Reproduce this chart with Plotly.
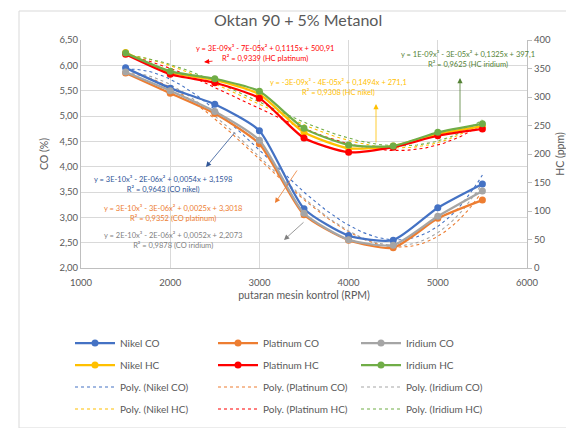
import numpy as np
import plotly.graph_objects as go

# ---------------- data ----------------
rpm = [1500, 2000, 2500, 3000, 3500, 4000, 4500, 5000, 5500]

co_nikel    = [5.95, 5.55, 5.23, 4.71, 3.17, 2.64, 2.55, 3.19, 3.66]
co_platinum = [5.85, 5.45, 5.05, 4.45, 3.05, 2.55, 2.40, 2.98, 3.34]
co_iridium  = [5.87, 5.50, 5.09, 4.52, 3.08, 2.56, 2.45, 3.02, 3.52]

hc_nikel    = [378, 343, 330, 305, 238, 210, 214, 235, 249]
hc_platinum = [375, 340, 325, 298, 228, 203, 212, 232, 244]
hc_iridium  = [377, 345, 332, 310, 245, 216, 214, 238, 253]

x_ticks = [1000, 2000, 3000, 4000, 5000, 6000]
co_ticks = [2.0, 2.5, 3.0, 3.5, 4.0, 4.5, 5.0, 5.5, 6.0, 6.5]
co_tick_labels = ["2,00", "2,50", "3,00", "3,50", "4,00", "4,50", "5,00", "5,50", "6,00", "6,50"]
hc_ticks = [0, 50, 100, 150, 200, 250, 300, 350, 400]

eq_labels = {
    "hc_platinum": "y = 3E-09x³ - 7E-05x² + 0,1115x + 500,91<br>R² = 0,9339 (HC platinum)",
    "hc_iridium": "y = 1E-09x³ - 3E-05x² + 0,1325x + 397,1<br>R² = 0,9625 (HC iridium)",
    "hc_nikel": "y = -3E-09x³ - 4E-05x² + 0,1494x + 271,1<br>R² = 0,9308 (HC nikel)",
    "co_nikel": "y = 3E-10x³ - 2E-06x² + 0,0054x + 3,1598<br>R² = 0,9643 (CO nikel)",
    "co_platinum": "y = 3E-10x³ - 3E-06x² + 0,0025x + 3,3018<br>R² = 0,9352 (CO platinum)",
    "co_iridium": "y = 2E-10x³ - 2E-06x² + 0,0052x + 2,2073<br>R² = 0,9878 (CO iridium)",
}

BLUE, ORANGE, GRAY = "#4472C4", "#ED7D31", "#A5A5A5"
GOLD, RED, GREEN = "#FFC000", "#FF0000", "#70AD47"
TXT = "#595959"
FONT = "Lato"

# ---------------- geometry ----------------
W, H = 574, 428
L, R, T, B = 73, 519, 39, 267   # plot area in px (reference)
DY = 7                          # page offset compensation


def px2x(px):
    return 1000 + (px - L) / (R - L) * 5000


def py2co(py):
    return 6.5 - (py - T) / (B - T) * 4.5


def py2hc(py):
    return 400 - (py - T) / (B - T) * 400


def ppx(px):
    return (px - L) / (R - L)


def ppy(py):
    return (B - py) / (B - T)


fig = go.Figure()

series = [
    ("Nikel CO", co_nikel, BLUE, "y", "legend"),
    ("Platinum CO", co_platinum, ORANGE, "y", "legend"),
    ("Iridium CO", co_iridium, GRAY, "y", "legend"),
    ("Nikel HC", hc_nikel, GOLD, "y2", "legend2"),
    ("Platinum HC", hc_platinum, RED, "y2", "legend2"),
    ("Iridium HC", hc_iridium, GREEN, "y2", "legend2"),
]

# trendlines (3rd order polynomial fit, like Excel "Poly.")
xs = np.linspace(min(rpm), max(rpm), 121)
for i, (name, vals, col, yax, _) in enumerate(series):
    xn = (np.array(rpm) - 3500) / 1000.0
    coef = np.polyfit(xn, np.array(vals, dtype=float), 3)
    ys = np.polyval(coef, (xs - 3500) / 1000.0)
    fig.add_trace(go.Scatter(
        x=xs, y=ys, mode="lines", yaxis=yax,
        name=f"Poly. ({name})",
        line=dict(color=col, width=1.1, dash="dot"),
        legend="legend3" if i < 3 else "legend4",
        hoverinfo="skip",
    ))

for name, vals, col, yax, lg in series:
    fig.add_trace(go.Scatter(
        x=rpm, y=vals, mode="lines+markers", yaxis=yax, name=name,
        line=dict(color=col, width=2.25, shape="spline", smoothing=0.6),
        marker=dict(color=col, size=7),
        legend=lg,
    ))

# ---------------- annotations (trendline labels) ----------------
ann = []


def label(text, cx, cy, col, yref):
    conv = py2co if yref == "y" else py2hc
    ann.append(dict(x=px2x(cx), y=conv(cy), xref="x", yref=yref, text=text,
                    showarrow=False, align="center",
                    font=dict(family=FONT, size=7.5, color=col)))


def arrow(hx, hy, tx, ty, col, yref):
    conv = py2co if yref == "y" else py2hc
    ann.append(dict(x=px2x(hx), y=conv(hy), ax=px2x(tx), ay=conv(ty),
                    xref="x", yref=yref, axref="x", ayref=yref, text="",
                    showarrow=True, arrowhead=2, arrowsize=1.3, arrowwidth=0.8,
                    arrowcolor=col, standoff=0))


label(eq_labels["hc_platinum"], 257, 52, RED, "y2")
arrow(196, 61, 206, 60, RED, "y2")
label(eq_labels["hc_iridium"], 460, 58, "#548235", "y2")
arrow(452, 77, 452, 123, "#548235", "y2")
label(eq_labels["hc_nikel"], 330, 86, GOLD, "y2")
arrow(368, 103, 368, 143, GOLD, "y2")
label(eq_labels["co_nikel"], 155, 183, "#2F5597", "y")
arrow(198, 166, 228, 130, "#2F5597", "y")
label(eq_labels["co_platinum"], 165, 212, ORANGE, "y")
arrow(267, 202, 290, 168, ORANGE, "y")
label(eq_labels["co_iridium"], 165, 239, "#7F7F7F", "y")
arrow(276, 239, 297, 220, "#7F7F7F", "y")

# title
ann.append(dict(x=ppx(290), y=ppy(19), xref="paper", yref="paper",
                text="Oktan 90 + 5% Metanol", showarrow=False,
                yanchor="middle",
                font=dict(family=FONT, size=16, color=TXT)))

fig.update_layout(annotations=ann)

# chart border
fig.add_shape(type="rect", xref="paper", yref="paper",
              x0=ppx(11), x1=ppx(569), y0=ppy(10), y1=ppy(427),
              line=dict(color="#D9D9D9", width=1), layer="below")

leg_common = dict(orientation="h", xanchor="left", yanchor="middle",
                  font=dict(family=FONT, size=10, color=TXT),
                  itemwidth=40, entrywidth=88, entrywidthmode="pixels",
                  bgcolor="rgba(0,0,0,0)", tracegroupgap=0)
rows_y = [342, 364, 386, 408]

fig.update_layout(
    width=W, height=H,
    margin=dict(l=L, r=W - R, t=T - DY, b=H - B + DY, autoexpand=False),
    paper_bgcolor="white", plot_bgcolor="white",
    font=dict(family=FONT, size=10, color=TXT),
    showlegend=True,
    legend=dict(x=ppx(62), y=ppy(rows_y[0]), **leg_common),
    legend2=dict(x=ppx(62), y=ppy(rows_y[1]), **leg_common),
    legend3=dict(x=ppx(62), y=ppy(rows_y[2]), **leg_common),
    legend4=dict(x=ppx(62), y=ppy(rows_y[3]), **leg_common),
    xaxis=dict(range=[1000, 6000], tickvals=x_ticks, showgrid=True,
               gridcolor="#D9D9D9", gridwidth=1, zeroline=False,
               showline=True, linecolor="#BFBFBF", linewidth=1,
               ticklabelstandoff=6,
               tickfont=dict(family=FONT, size=9.5, color=TXT),
               title=dict(text="putaran mesin kontrol (RPM)", standoff=4,
                          font=dict(family=FONT, size=10.5, color=TXT))),
    yaxis=dict(range=[2.0, 6.5], tickvals=co_ticks, ticktext=co_tick_labels,
               showgrid=True, gridcolor="#D9D9D9", gridwidth=1, zeroline=False,
               showline=True, linecolor="#BFBFBF", linewidth=1,
               tickfont=dict(family=FONT, size=9.5, color=TXT),
               title=dict(text="CO (%)", standoff=8,
                          font=dict(family=FONT, size=10.5, color=TXT))),
    yaxis2=dict(range=[0, 400], tickvals=hc_ticks, overlaying="y", side="right",
                showgrid=False, zeroline=False, showline=True,
                linecolor="#BFBFBF", linewidth=1, ticks="outside", ticklen=4,
                tickcolor="#BFBFBF",
                tickfont=dict(family=FONT, size=9.5, color=TXT),
                title=dict(text="HC (ppm)", standoff=6,
                           font=dict(family=FONT, size=10.5, color=TXT))),
)

fig.write_html("out.html")
